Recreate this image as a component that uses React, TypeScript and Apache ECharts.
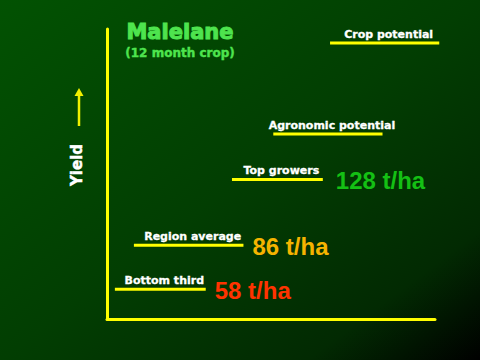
import React, { useEffect, useRef } from "react";
import * as echarts from "echarts";

// Yield levels (t/ha) and horizontal spans (% of x-axis) for each level line
const categories = ["Bottom third", "Region average", "Top growers", "Agronomic potential", "Crop potential"];
const yields = [58, 86, 128, 157, 215];
const spanStart = [2.4, 8.2, 38.1, 50.7, 68.0];
const spanEnd = [30.1, 41.6, 65.8, 84.0, 101.3];
const valueLabels = ["58 t/ha", "86 t/ha", "128 t/ha", "", ""];
const valueColors = ["#ff3300", "#f5b400", "#14c014", "", ""];

export default function App() {
  const ref = useRef<HTMLDivElement>(null);

  useEffect(() => {
    document.body.style.margin = "0";
    if (!ref.current) return;
    const chart = echarts.init(ref.current, undefined, { renderer: "svg" });

    const data = categories.map((c, i) => ({ name: c, value: [spanStart[i], spanEnd[i], yields[i]] }));

    const hiddenAxisBits = {
      axisTick: { show: false },
      axisLabel: { show: false },
      splitLine: { show: false },
    };

    chart.setOption({
      animation: false,
      backgroundColor: {
        type: "linear",
        x: 0,
        y: 0,
        x2: 1,
        y2: 1,
        colorStops: [
          { offset: 0, color: "#025202" },
          { offset: 0.5, color: "#023e02" },
          { offset: 0.82, color: "#022a02" },
          { offset: 1, color: "#000000" },
        ],
      },
      title: {
        text: "Malelane",
        subtext: "(12 month crop)",
        left: 175,
        top: 16,
        textAlign: "center",
        itemGap: 4,
        textStyle: {
          color: "#4ee44e",
          fontFamily: "DejaVu Sans",
          fontWeight: "bold",
          fontSize: 21,
          textBorderColor: "#4ee44e",
          textBorderWidth: 1,
        },
        subtextStyle: {
          color: "#4ee44e",
          fontFamily: "DejaVu Sans",
          fontWeight: "bold",
          fontSize: 12,
          textBorderColor: "#4ee44e",
          textBorderWidth: 0.4,
        },
      },
      grid: { left: 107, right: 45, top: 29, bottom: 41 },
      xAxis: {
        type: "value",
        min: 0,
        max: 100,
        ...hiddenAxisBits,
        axisLine: { show: true, onZero: false, lineStyle: { color: "#ffff00", width: 3 } },
      },
      yAxis: {
        type: "value",
        min: 39,
        max: 224,
        ...hiddenAxisBits,
        axisLine: { show: true, onZero: false, lineStyle: { color: "#ffff00", width: 3 } },
      },
      graphic: [
        {
          type: "text",
          x: 77,
          y: 165,
          rotation: Math.PI / 2,
          style: {
            text: "Yield",
            fill: "#ffffff",
            font: "bold 15px 'DejaVu Sans'",
            align: "center",
            verticalAlign: "middle",
            stroke: "#ffffff",
            lineWidth: 0.5,
          },
        },
        {
          type: "line",
          shape: { x1: 79, y1: 126, x2: 79, y2: 94 },
          style: { stroke: "#f0f000", lineWidth: 2.5 },
        },
        {
          type: "polygon",
          shape: { points: [[79, 88], [74.5, 96], [83.5, 96]] },
          style: { fill: "#f0f000" },
        },
      ],
      series: [
        {
          type: "custom",
          clip: false,
          data,
          renderItem: (params: any, api: any) => {
            const i = params.dataIndex;
            const y = api.value(2);
            const p1 = api.coord([api.value(0), y]);
            const p2 = api.coord([api.value(1), y]);
            const children: any[] = [
              {
                type: "line",
                shape: { x1: p1[0], y1: p1[1], x2: p2[0], y2: p2[1] },
                style: { stroke: "#ffff00", lineWidth: 3 },
              },
              {
                type: "text",
                x: (p1[0] + p2[0]) / 2 + 4,
                y: p1[1] - 3,
                style: {
                  text: categories[i],
                  fill: "#ffffff",
                  font: "bold 11px 'DejaVu Sans'",
                  align: "center",
                  verticalAlign: "bottom",
                  stroke: "#ffffff",
                  lineWidth: 0.3,
                },
              },
            ];
            if (valueLabels[i]) {
              children.push({
                type: "text",
                x: p2[0] + (i === 2 ? 13 : 9),
                y: p1[1] + 1,
                style: {
                  text: valueLabels[i],
                  fill: valueColors[i],
                  font: "bold 24px 'Liberation Sans'",
                  align: "left",
                  verticalAlign: "middle",
                },
              });
            }
            return { type: "group", children };
          },
        },
      ],
    });

    return () => chart.dispose();
  }, []);

  return <div ref={ref} style={{ width: 480, height: 360 }} />;
}
